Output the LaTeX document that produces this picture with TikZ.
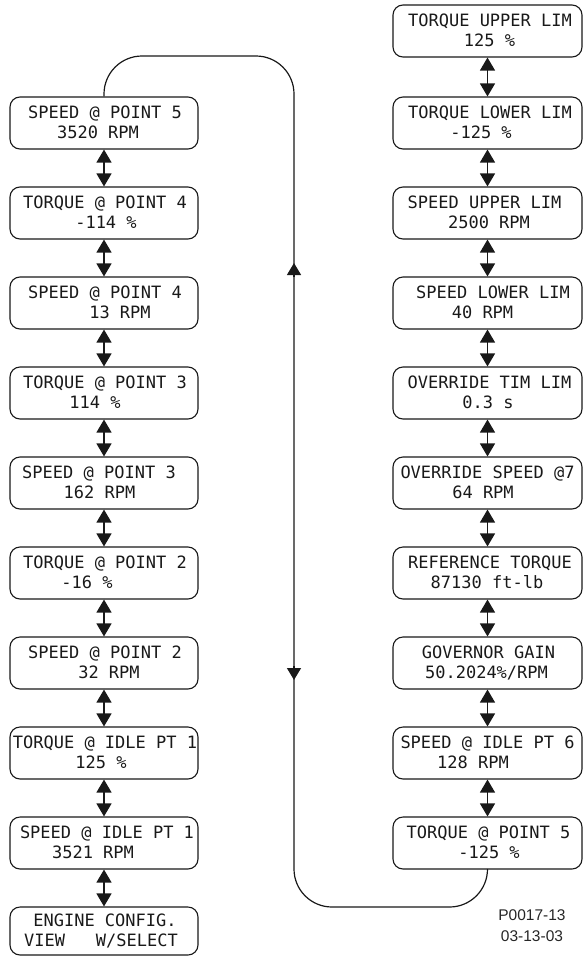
\documentclass[tikz,border=0pt]{standalone}
\usepackage{fontspec}
\newfontfamily\lcdfont{DejaVu Sans Mono}
\newfontfamily\lblfont{Liberation Sans}
\usetikzlibrary{arrows.meta}
\newcommand\twoline[4]{%
  \makebox[0pt]{%
    \raisebox{5pt}[0pt][0pt]{\makebox[0pt]{\kern#1pt\kern#1pt #2}}%
    \raisebox{-15pt}[0pt][0pt]{\makebox[0pt]{\kern#3pt\kern#3pt #4}}}}
\tikzset{
  dispbox/.style={draw=black!90, line width=1.1pt, rounded corners=10pt,
    minimum width=188pt, minimum height=52pt, inner sep=0pt,
    font=\lcdfont\fontsize{17}{20}\selectfont, text=black!90},
  dbl/.style={line width=1.2pt, draw=black!90,
    {Triangle[width=15pt,length=13pt]}-{Triangle[width=15pt,length=13pt]}},
  looppath/.style={line width=1.2pt, draw=black!90, rounded corners=38pt},
  looptip/.style={line width=1.2pt, draw=black!90, -{Triangle[width=14pt,length=12pt]}},
  codelbl/.style={align=center, inner sep=0pt, text=black!85,
    font=\lblfont\fontsize{15.5}{21}\selectfont}
}
\begin{document}
\begin{tikzpicture}[x=1pt,y=-1pt]
\useasboundingbox (0,0) rectangle (583,956);
% left column
\node[dispbox] (L1) at (104,123) {\twoline{1}{SPEED @ POINT 5}{-6}{3520 RPM}};
\node[dispbox] (L2) at (104,213) {\twoline{1}{TORQUE @ POINT 4}{2}{-114 \%}};
\node[dispbox] (L3) at (104,303) {\twoline{1}{SPEED @ POINT 4}{16}{13 RPM}};
\node[dispbox] (L4) at (104,393) {\twoline{1}{TORQUE @ POINT 3}{-9}{114 \%}};
\node[dispbox] (L5) at (104,483) {\twoline{-5}{SPEED @ POINT 3}{-4.5}{162 RPM}};
\node[dispbox] (L6) at (104,573) {\twoline{1}{TORQUE @ POINT 2}{-17}{-16 \%}};
\node[dispbox] (L7) at (104,663) {\twoline{1}{SPEED @ POINT 2}{5}{32 RPM}};
\node[dispbox] (L8) at (104,753) {\twoline{1}{TORQUE @ IDLE PT 1}{-3}{125 \%}};
\node[dispbox] (L9) at (104,843) {\twoline{3}{SPEED @ IDLE PT 1}{-11}{3521 RPM}};
\node[dispbox, minimum height=48pt] (L10) at (104,931) {\twoline{1}{ENGINE CONFIG.}{-3}{VIEW\ \ \ W/SELECT}};
% right column
\node[dispbox, minimum width=189pt] (R1) at (487.5,31) {\twoline{2.5}{TORQUE UPPER LIM}{2}{125 \%}};
\node[dispbox, minimum width=189pt] (R2) at (487.5,123) {\twoline{2.5}{TORQUE LOWER LIM}{-6.5}{-125 \%}};
\node[dispbox, minimum width=189pt] (R3) at (487.5,213) {\twoline{-3}{SPEED UPPER LIM}{1.5}{2500 RPM}};
\node[dispbox, minimum width=189pt] (R4) at (487.5,303) {\twoline{5.5}{SPEED LOWER LIM}{-5}{40 RPM}};
\node[dispbox, minimum width=189pt] (R5) at (487.5,393) {\twoline{2}{OVERRIDE TIM LIM}{0.5}{0.3 s}};
\node[dispbox, minimum width=189pt] (R6) at (487.5,483) {\twoline{0}{OVERRIDE SPEED @7}{-4.5}{64 RPM}};
\node[dispbox, minimum width=189pt] (R7) at (487.5,573) {\twoline{2.5}{REFERENCE TORQUE}{-0.5}{87130 ft-lb}};
\node[dispbox, minimum width=189pt] (R8) at (487.5,663) {\twoline{1}{GOVERNOR GAIN}{-1}{50.2024\%/RPM}};
\node[dispbox, minimum width=189pt] (R9) at (487.5,753) {\twoline{0}{SPEED @ IDLE PT 6}{-14.5}{128 RPM}};
\node[dispbox, minimum width=189pt] (R10) at (487.5,843) {\twoline{1}{TORQUE @ POINT 5}{1.5}{-125 \%}};
% double arrows
\foreach \a/\b in {L1/L2,L2/L3,L3/L4,L4/L5,L5/L6,L6/L7,L7/L8,L8/L9,L9/L10,
                   R1/R2,R2/R3,R3/R4,R4/R5,R5/R6,R6/R7,R7/R8,R8/R9,R9/R10}
  \draw[dbl] (\a.south) -- (\b.north);
% loop
\draw[looppath] (R10.south) |- (294,907) -- (294,56) -| (L1.north);
\coordinate (upB) at (294,277);
\coordinate (upA) at (294,263);
\coordinate (dnB) at (294,666);
\coordinate (dnA) at (294,680);
\draw[looptip] (upB) -- (upA);
\draw[looptip] (dnB) -- (dnA);
% code label
\node[codelbl] (code) at (532,926) {P0017-13\\03-13-03};
\end{tikzpicture}
\end{document}
